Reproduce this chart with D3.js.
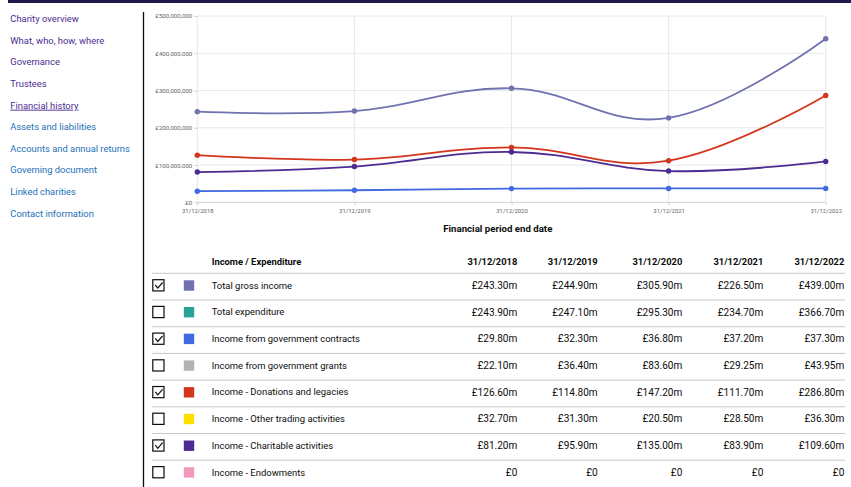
<!DOCTYPE html>
<html><head><meta charset="utf-8">
<script src="https://cdn.jsdelivr.net/npm/d3@7"></script>
<style>
html,body{margin:0;padding:0;background:#fff;}
svg{display:block;font-family:Roboto,sans-serif;}
</style></head>
<body>
<svg id="c" width="851" height="487"></svg>
<script>
const navItems = ["Charity overview","What, who, how, where","Governance","Trustees","Financial history","Assets and liabilities","Accounts and annual returns","Governing document","Linked charities","Contact information"];
const navVisited = [true,true,true,true,true,false,false,false,false,false];
const dates = ["31/12/2018","31/12/2019","31/12/2020","31/12/2021","31/12/2022"];
const seriesNames = ["Total gross income","Total expenditure","Income from government contracts","Income from government grants","Income - Donations and legacies","Income - Other trading activities","Income - Charitable activities","Income - Endowments"];
const seriesColors = ["#6f72af","#28a197","#4169e1","#b1b4b6","#d4351c","#ffdd00","#4c2c92","#f499be"];
const seriesChecked = [true,false,true,false,true,false,true,false];
const seriesValues = [
  [243.30,244.90,305.90,226.50,439.00],
  [243.90,247.10,295.30,234.70,366.70],
  [29.80,32.30,36.80,37.20,37.30],
  [22.10,36.40,83.60,29.25,43.95],
  [126.60,114.80,147.20,111.70,286.80],
  [32.70,31.30,20.50,28.50,36.30],
  [81.20,95.90,135.00,83.90,109.60],
  [0,0,0,0,0]
];
const yTicks = [0,100,200,300,400,500];
const FONT = "Roboto, sans-serif";

const svg = d3.select("#c");
function fit(str, target, weight) {
  const tmp = svg.append("text").attr("font-family",FONT).attr("font-size",100)
    .attr("font-weight",weight||"normal").text(str);
  const w = tmp.node().getComputedTextLength();
  tmp.remove();
  return 100*target/w;
}
const navSize = fit("Accounts and annual returns",119.7);
const rowSize = fit("Income from government contracts",148.3);
const valSize = fit("£243.30m",45.6);
const headSize = fit("31/12/2018",50,"bold");
const titleSize = fit("Financial period end date",109.3,"bold");
const yTickSize = fit("£500,000,000",37);
const xTickSize = fit("31/12/2018",31.7);

svg.append("rect").attr("x",8).attr("y",0).attr("width",843).attr("height",3).attr("fill","#1d1a4a");
const nav = svg.append("g");
navItems.forEach((t,i)=>{
  const y = 19 + i*21.6;
  const tx = nav.append("text").attr("x",10.3).attr("y",y).attr("dy","0.35em")
    .attr("font-size",navSize).attr("fill", navVisited[i] ? "#4c2c92" : "#1d70b8").text(t);
  if (t==="Financial history") tx.attr("text-decoration","underline");
});
svg.append("line").attr("x1",143.5).attr("x2",143.5).attr("y1",12).attr("y2",487).attr("stroke","#0b0c0c").attr("stroke-width",1.3);

const x = d3.scalePoint().domain(dates).range([197.3,825.7]);
const y = d3.scaleLinear().domain([0,500]).range([202.3,16]);
const g = svg.append("g");
g.selectAll(".hg").data(yTicks).join("line").attr("x1",197.3).attr("x2",825.7)
  .attr("y1",d=>y(d)).attr("y2",d=>y(d)).attr("stroke",d=>d===0?"#d0d0d0":"#e8e8e8").attr("stroke-width",1);
g.selectAll(".vg").data(dates).join("line").attr("x1",d=>x(d)).attr("x2",d=>x(d))
  .attr("y1",16).attr("y2",202.3).attr("stroke","#e8e8e8").attr("stroke-width",1);
const yAxis = d3.axisLeft(y).tickValues(yTicks).tickSize(3).tickPadding(2)
  .tickFormat(d=>"£"+d3.format(",")(d*1000000));
const ya = g.append("g").attr("transform","translate(197.3,0)").call(yAxis);
ya.select(".domain").remove();
ya.selectAll("line").attr("stroke","#d0d0d0");
ya.selectAll("text").attr("font-size",yTickSize).attr("fill","#666").attr("font-family",FONT);
const xAxis = d3.axisBottom(x).tickSize(3).tickPadding(3.5);
const xa = g.append("g").attr("transform","translate(0,202.3)").call(xAxis);
xa.select(".domain").remove();
xa.selectAll("line").attr("stroke","#d0d0d0");
xa.selectAll("text").attr("font-size",xTickSize).attr("fill","#666").attr("font-family",FONT);
g.append("text").attr("x",497.8).attr("y",229).attr("dy","0.35em").attr("text-anchor","middle")
  .attr("font-size",titleSize).attr("font-weight","bold").attr("fill","#0b0c0c").text("Financial period end date");

const line = d3.line().x((d,i)=>x(dates[i])).y(d=>y(d)).curve(d3.curveCardinal.tension(-0.2));
const shown = seriesNames.map((n,i)=>i).filter(i=>seriesChecked[i]);
shown.forEach(i=>{
  g.append("path").attr("d",line(seriesValues[i])).attr("fill","none")
    .attr("stroke",seriesColors[i]).attr("stroke-width",1.8);
});
shown.forEach(i=>{
  g.selectAll(null).data(seriesValues[i]).join("circle")
    .attr("cx",(d,j)=>x(dates[j])).attr("cy",d=>y(d)).attr("r",2.7).attr("fill",seriesColors[i]);
});

const colRight = [517.3,597.7,682.3,763.3,844.3];
const t = svg.append("g");
const headerY = 262;
t.append("text").attr("x",211.7).attr("y",headerY).attr("dy","0.35em").attr("font-size",headSize)
  .attr("font-weight","bold").attr("fill","#0b0c0c").text("Income / Expenditure");
dates.forEach((d,j)=>{
  t.append("text").attr("x",colRight[j]).attr("y",headerY).attr("dy","0.35em").attr("text-anchor","end")
    .attr("font-size",headSize).attr("font-weight","bold").attr("fill","#0b0c0c").text(d);
});
const rowH = 26.7, firstLine = 273.3;
const fmt = v => v===0 ? "£0" : "£"+v.toFixed(2)+"m";
seriesNames.forEach((n,i)=>{
  const lineY = firstLine + i*rowH;
  t.append("line").attr("x1",151.7).attr("x2",845).attr("y1",lineY).attr("y2",lineY)
    .attr("stroke","#c8c8c8").attr("stroke-width",1);
  const cy = lineY + 12;
  t.append("rect").attr("x",152.8).attr("y",cy-5.6).attr("width",11.2).attr("height",11.2)
    .attr("fill","#fff").attr("stroke","#0b0c0c").attr("stroke-width",1.2);
  if (seriesChecked[i]) {
    t.append("path").attr("d",`M${155.3},${cy-0.3} L${157.8},${cy+2.8} L${162.6},${cy-2.8}`)
      .attr("fill","none").attr("stroke","#0b0c0c").attr("stroke-width",1.2);
  }
  t.append("rect").attr("x",183.8).attr("y",cy-5).attr("width",10.4).attr("height",10.4).attr("fill",seriesColors[i]);
  t.append("text").attr("x",211.7).attr("y",cy).attr("dy","0.35em").attr("font-size",rowSize)
    .attr("fill","#0b0c0c").text(n);
  seriesValues[i].forEach((v,j)=>{
    t.append("text").attr("x",colRight[j]).attr("y",cy).attr("dy","0.35em").attr("text-anchor","end")
      .attr("font-size",valSize).attr("fill","#0b0c0c").text(fmt(v));
  });
});
</script>
</body></html>
